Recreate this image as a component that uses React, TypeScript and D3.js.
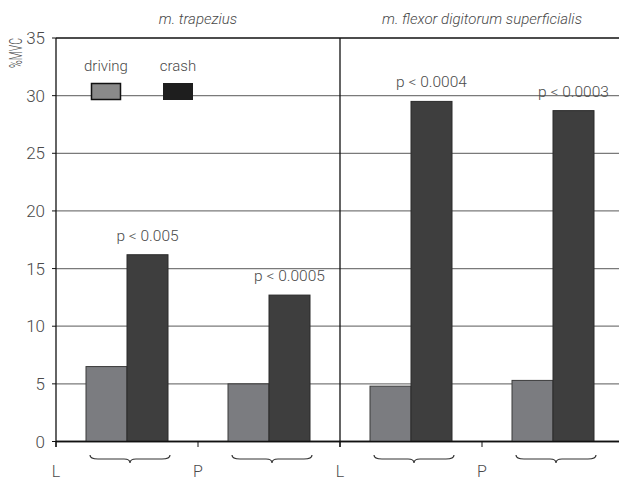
import * as d3 from 'd3';
import React from 'react';

// values
const categories = ['L', 'P', 'L', 'P'];
const muscles = ['m. trapezius', 'm. flexor digitorum superficialis'];
const seriesNames = ['driving', 'crash'];
const drivingValues = [6.5, 5.0, 4.8, 5.3];
const crashValues = [16.2, 12.7, 29.5, 28.7];
const pLabels = ['p < 0.005', 'p < 0.0005', 'p < 0.0004', 'p < 0.0003'];
const yTicks = [0, 5, 10, 15, 20, 25, 30, 35];

const W = 619;
const H = 481;
const left = 56;
const right = 624;
const top = 38;
const bottom = 441.5;

const font = "Roboto, 'Liberation Sans', sans-serif";
const textColor = '#4a4a4a';
const drivingFill = '#7b7c80';
const crashFill = '#3e3e3e';

const App = () => {
  const x = d3
    .scaleBand<number>()
    .domain(d3.range(categories.length))
    .range([left, right])
    .padding(0);

  const y = d3.scaleLinear().domain([0, 35]).range([bottom, top]);

  const barW = 41;
  const sub = d3
    .scaleBand<string>()
    .domain(seriesNames)
    .range([0, barW * 2]);

  const groupX = (i: number) => x(i)! + x.bandwidth() / 2 - barW;
  const divider = x(2)!;

  // horizontal curly brace under a group, tip pointing down
  const brace = (cx: number) => {
    const half = 40;
    const x1 = cx - half;
    const x2 = cx + half;
    const y0 = 455;
    const ym = 459;
    const yt = 463;
    return `M${x1},${y0} Q${x1},${ym} ${x1 + 8},${ym} L${cx - 6},${ym} Q${cx},${ym} ${cx},${yt} Q${cx},${ym} ${cx + 6},${ym} L${x2 - 8},${ym} Q${x2},${ym} ${x2},${y0}`;
  };

  return (
    <svg
      width={W}
      height={H}
      style={{ position: 'absolute', left: 0, top: 0, background: '#fff' }}
      fontFamily={font}
      fontWeight={300}
    >
      {/* gridlines */}
      {yTicks.map((t) => (
        <line
          key={'g' + t}
          x1={left}
          x2={W}
          y1={y(t)}
          y2={y(t)}
          stroke={t === 35 || t === 0 ? '#111' : '#7a7a7a'}
          strokeWidth={t === 35 || t === 0 ? 1.3 : 1.2}
        />
      ))}

      {/* y ticks and labels */}
      {yTicks.map((t) => (
        <g key={'t' + t}>
          <line x1={52} x2={left} y1={y(t)} y2={y(t)} stroke="#111" />
          <text
            x={45}
            y={y(t)}
            dy="0.36em"
            textAnchor="end"
            fontSize={17}
            fill={textColor}
          >
            {t}
          </text>
        </g>
      ))}

      <text
        transform={`translate(22,53) rotate(-90)`}
        textAnchor="middle"
        fontSize={18}
        fill={textColor}
        textLength={30}
        lengthAdjust="spacingAndGlyphs"
      >
        %MVC
      </text>

      {/* bars */}
      {categories.map((_, i) => (
        <g key={'b' + i}>
          <rect
            x={groupX(i) + sub('driving')!}
            y={y(drivingValues[i])}
            width={sub.bandwidth()}
            height={bottom - y(drivingValues[i])}
            fill={drivingFill}
            stroke="#3a3a3a"
            strokeWidth={1}
          />
          <rect
            x={groupX(i) + sub('crash')!}
            y={y(crashValues[i])}
            width={sub.bandwidth()}
            height={bottom - y(crashValues[i])}
            fill={crashFill}
            stroke="#2a2a2a"
            strokeWidth={1}
          />
          <text
            x={groupX(i) + sub('crash')! + sub.bandwidth() / 2}
            y={y(crashValues[i]) - 14}
            textAnchor="middle"
            fontSize={15.5}
            fill={textColor}
          >
            {pLabels[i]}
          </text>
        </g>
      ))}

      {/* axes */}
      <line x1={left} x2={left} y1={top} y2={447} stroke="#111" strokeWidth={1.3} />
      <line x1={divider} x2={divider} y1={top} y2={447} stroke="#111" strokeWidth={1.3} />
      <line x1={left} x2={W} y1={bottom} y2={bottom} stroke="#111" strokeWidth={1.3} />
      {categories.map((c, i) => (
        <g key={'c' + i}>
          <line x1={x(i)} x2={x(i)} y1={bottom} y2={447} stroke="#111" />
          <text
            x={x(i)}
            y={477}
            textAnchor="middle"
            fontSize={16}
            fill={textColor}
          >
            {c}
          </text>
          <path
            d={brace(x(i)! + x.bandwidth() / 2 + 3)}
            fill="none"
            stroke="#333"
            strokeWidth={1.2}
          />
        </g>
      ))}

      {/* muscle titles */}
      {muscles.map((m, i) => (
        <text
          key={'m' + i}
          x={i === 0 ? (left + divider) / 2 : (divider + right) / 2}
          y={24}
          textAnchor="middle"
          fontSize={15}
          fontStyle="italic"
          fill={textColor}
        >
          {m}
        </text>
      ))}

      {/* legend */}
      <text x={106} y={71} textAnchor="middle" fontSize={15} fill={textColor}>
        {seriesNames[0]}
      </text>
      <rect x={91.5} y={83.5} width={29} height={16} fill="#8a8a8a" stroke="#111" strokeWidth={1.5} />
      <text x={178} y={71} textAnchor="middle" fontSize={15} fill={textColor}>
        {seriesNames[1]}
      </text>
      <rect x={163} y={83} width={30} height={17} fill="#1e1e1e" />
    </svg>
  );
};

export default App;
